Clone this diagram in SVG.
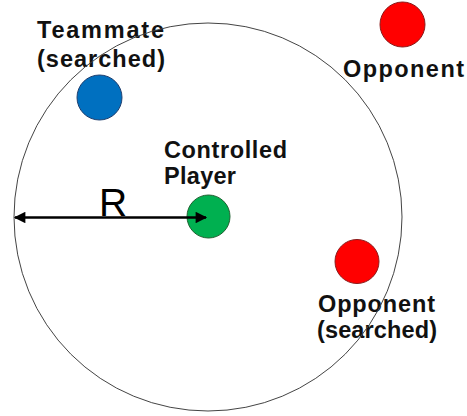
<svg xmlns="http://www.w3.org/2000/svg" width="467" height="416" viewBox="0 0 467 416">
<style>
.lbl{font-family:"Liberation Sans",Arial,sans-serif;font-weight:bold;font-size:23.5px;fill:#111}
.dot{stroke-width:1}
</style>
<defs>
<marker id="ah" viewBox="0 0 10 10" refX="9" refY="5" markerWidth="5.2" markerHeight="4.6" orient="auto-start-reverse" markerUnits="strokeWidth">
<path d="M0,0 L10,5 L0,10 z" fill="#000"/>
</marker>
</defs>
<rect width="467" height="416" fill="#fff"/>
<g id="labels">
<g id="teammate-label">
<text class="lbl" x="37" y="38" textLength="127" lengthAdjust="spacing">Teammate</text>
<text class="lbl" x="37" y="67" textLength="128" lengthAdjust="spacing">(searched)</text>
</g>
<g id="opponent-label">
<text class="lbl" x="343" y="77" textLength="121" lengthAdjust="spacing">Opponent</text>
</g>
<g id="player-label">
<text class="lbl" x="164" y="158" textLength="123" lengthAdjust="spacing">Controlled</text>
<text class="lbl" x="164" y="184" textLength="72" lengthAdjust="spacing">Player</text>
</g>
<g id="opponent-searched-label">
<text class="lbl" x="318" y="312" textLength="117" lengthAdjust="spacing">Opponent</text>
<text class="lbl" x="317" y="338" textLength="120" lengthAdjust="spacing">(searched)</text>
</g>
</g>
<g id="search-area">
<circle cx="208" cy="217" r="194" fill="none" stroke="#444" stroke-width="1"/>
</g>
<g id="teammate"><circle class="dot" cx="99.5" cy="97.5" r="22.5" fill="#0070C0" stroke="#1F3F6F"/></g>
<g id="opponent"><circle class="dot" cx="402.5" cy="24.5" r="22.5" fill="#FF0000" stroke="#8B1A1A"/></g>
<g id="opponent-searched"><circle class="dot" cx="357" cy="261.5" r="22" fill="#FF0000" stroke="#8B1A1A"/></g>
<g id="player"><circle class="dot" cx="208.5" cy="216.5" r="21.5" fill="#00B050" stroke="#1F5F2F"/></g>
<g id="connectors">
<line x1="15" y1="217.5" x2="206" y2="217.5" stroke="#000" stroke-width="2.5" marker-start="url(#ah)" marker-end="url(#ah)"/>
<text x="99" y="216" font-family="'Liberation Sans',Arial,sans-serif" font-size="39" fill="#000">R</text>
</g>
</svg>
